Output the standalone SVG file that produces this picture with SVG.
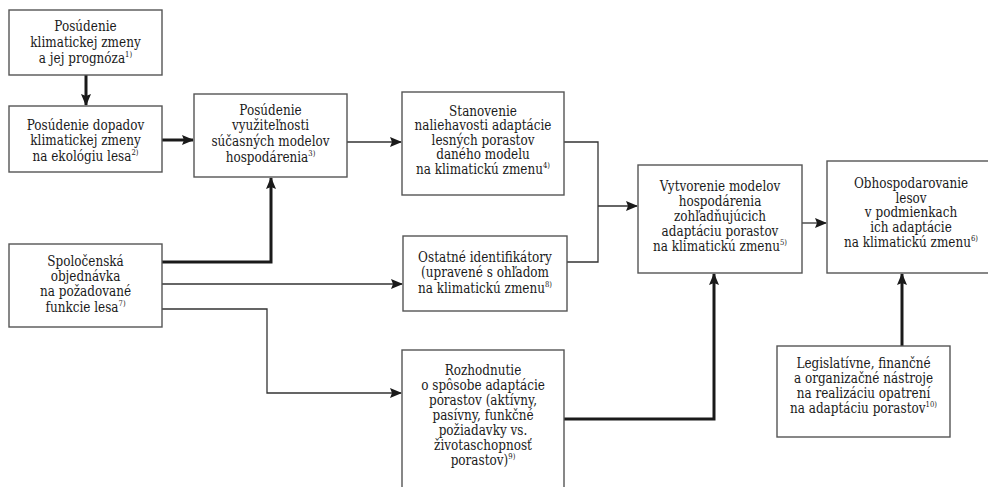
<svg xmlns="http://www.w3.org/2000/svg" width="988" height="487" viewBox="0 0 988 487">
<defs>
<marker id="ah" markerUnits="userSpaceOnUse" markerWidth="12" markerHeight="10" refX="11" refY="5" orient="auto">
<path d="M0,0 L12,5 L0,10 L2,5 Z" fill="#1a1a1a"/>
</marker>
</defs>
<style>
.box{fill:#fff;stroke:#555;stroke-width:1.4}
.t{font-family:'DejaVu Serif','Liberation Serif',serif;font-size:14px;fill:#1a1a1a;text-anchor:middle}
.sup{font-size:8px}
.thin{fill:none;stroke:#333;stroke-width:1.3}
.thick{fill:none;stroke:#1a1a1a;stroke-width:3}
</style>
<rect width="988" height="487" fill="#fff"/>
<g id="connectors">
<path class="thick" d="M86,75 V105" marker-end="url(#ah)"/>
<path class="thick" d="M162,140 H193" marker-end="url(#ah)"/>
<path class="thin" d="M347,142 H401" marker-end="url(#ah)"/>
<path class="thin" d="M564,142 H598 V262 H567"/>
<path class="thin" d="M598,206 H637" marker-end="url(#ah)"/>
<path class="thick" d="M162,262 H271 V178" marker-end="url(#ah)"/>
<path class="thin" d="M162,284 H402" marker-end="url(#ah)"/>
<path class="thin" d="M162,309 H267 V393 H401" marker-end="url(#ah)"/>
<path class="thick" d="M564,419 H714 V274" marker-end="url(#ah)"/>
<path class="thin" d="M802,223 H826" marker-end="url(#ah)"/>
<path class="thick" d="M902,346 V274" marker-end="url(#ah)"/>
</g>
<g id="n1">
<rect class="box" x="9" y="10" width="153" height="65"/>
<text class="t" transform="translate(85.5 0) scale(0.86 1)"><tspan x="0" y="31">Posúdenie</tspan><tspan x="0" y="47">klimatickej zmeny</tspan><tspan x="0" y="63.5">a jej prognóza<tspan class="sup" dy="-6">1)</tspan></tspan></text>
</g>
<g id="n2">
<rect class="box" x="9" y="106" width="153" height="66"/>
<text class="t" transform="translate(85.5 0) scale(0.86 1)"><tspan x="0" y="130">Posúdenie dopadov</tspan><tspan x="0" y="145.5">klimatickej zmeny</tspan><tspan x="0" y="161">na ekológiu lesa<tspan class="sup" dy="-6">2)</tspan></tspan></text>
</g>
<g id="n3">
<rect class="box" x="194" y="94" width="153" height="83"/>
<text class="t" transform="translate(270.5 0) scale(0.86 1)"><tspan x="0" y="115">Posúdenie</tspan><tspan x="0" y="130.5">využiteľnosti</tspan><tspan x="0" y="146">súčasných modelov</tspan><tspan x="0" y="162">hospodárenia<tspan class="sup" dy="-6">3)</tspan></tspan></text>
</g>
<g id="n4">
<rect class="box" x="402" y="92" width="162" height="103"/>
<text class="t" transform="translate(483 0) scale(0.86 1)"><tspan x="0" y="116">Stanovenie</tspan><tspan x="0" y="130.5">naliehavosti adaptácie</tspan><tspan x="0" y="145">lesných porastov</tspan><tspan x="0" y="159.5">daného modelu</tspan><tspan x="0" y="174">na klimatickú zmenu<tspan class="sup" dy="-6">4)</tspan></tspan></text>
</g>
<g id="n7">
<rect class="box" x="9" y="244" width="153" height="83"/>
<text class="t" transform="translate(85.5 0) scale(0.86 1)"><tspan x="0" y="266">Spoločenská</tspan><tspan x="0" y="281">objednávka</tspan><tspan x="0" y="296.5">na požadované</tspan><tspan x="0" y="312">funkcie lesa<tspan class="sup" dy="-6">7)</tspan></tspan></text>
</g>
<g id="n8">
<rect class="box" x="403" y="236" width="164" height="75"/>
<text class="t" transform="translate(485 0) scale(0.86 1)"><tspan x="0" y="262">Ostatné identifikátory</tspan><tspan x="0" y="277.5">(upravené s ohľadom</tspan><tspan x="0" y="293">na klimatickú zmenu<tspan class="sup" dy="-6">8)</tspan></tspan></text>
</g>
<g id="n9">
<rect class="box" x="402" y="350" width="162" height="145"/>
<text class="t" transform="translate(483 0) scale(0.86 1)"><tspan x="0" y="375">Rozhodnutie</tspan><tspan x="0" y="390">o spôsobe adaptácie</tspan><tspan x="0" y="405">porastov (aktívny,</tspan><tspan x="0" y="420">pasívny, funkčné</tspan><tspan x="0" y="435">požiadavky vs.</tspan><tspan x="0" y="450">životaschopnosť</tspan><tspan x="0" y="465">porastov)<tspan class="sup" dy="-6">9)</tspan></tspan></text>
</g>
<g id="n5">
<rect class="box" x="638" y="165" width="164" height="108"/>
<text class="t" transform="translate(720 0) scale(0.86 1)"><tspan x="0" y="191">Vytvorenie modelov</tspan><tspan x="0" y="206">hospodárenia</tspan><tspan x="0" y="221">zohľadňujúcich</tspan><tspan x="0" y="236">adaptáciu porastov</tspan><tspan x="0" y="251">na klimatickú zmenu<tspan class="sup" dy="-6">5)</tspan></tspan></text>
</g>
<g id="n6">
<rect class="box" x="827" y="161" width="168" height="112"/>
<text class="t" transform="translate(911 0) scale(0.86 1)"><tspan x="0" y="188">Obhospodarovanie</tspan><tspan x="0" y="203">lesov</tspan><tspan x="0" y="217.5">v podmienkach</tspan><tspan x="0" y="232">ich adaptácie</tspan><tspan x="0" y="247">na klimatickú zmenu<tspan class="sup" dy="-6">6)</tspan></tspan></text>
</g>
<g id="n10">
<rect class="box" x="777" y="346" width="173" height="91"/>
<text class="t" transform="translate(863.5 0) scale(0.86 1)"><tspan x="0" y="368">Legislatívne, finančné</tspan><tspan x="0" y="383">a organizačné nástroje</tspan><tspan x="0" y="398">na realizáciu opatrení</tspan><tspan x="0" y="413">na adaptáciu porastov<tspan class="sup" dy="-6">10)</tspan></tspan></text>
</g>
</svg>
